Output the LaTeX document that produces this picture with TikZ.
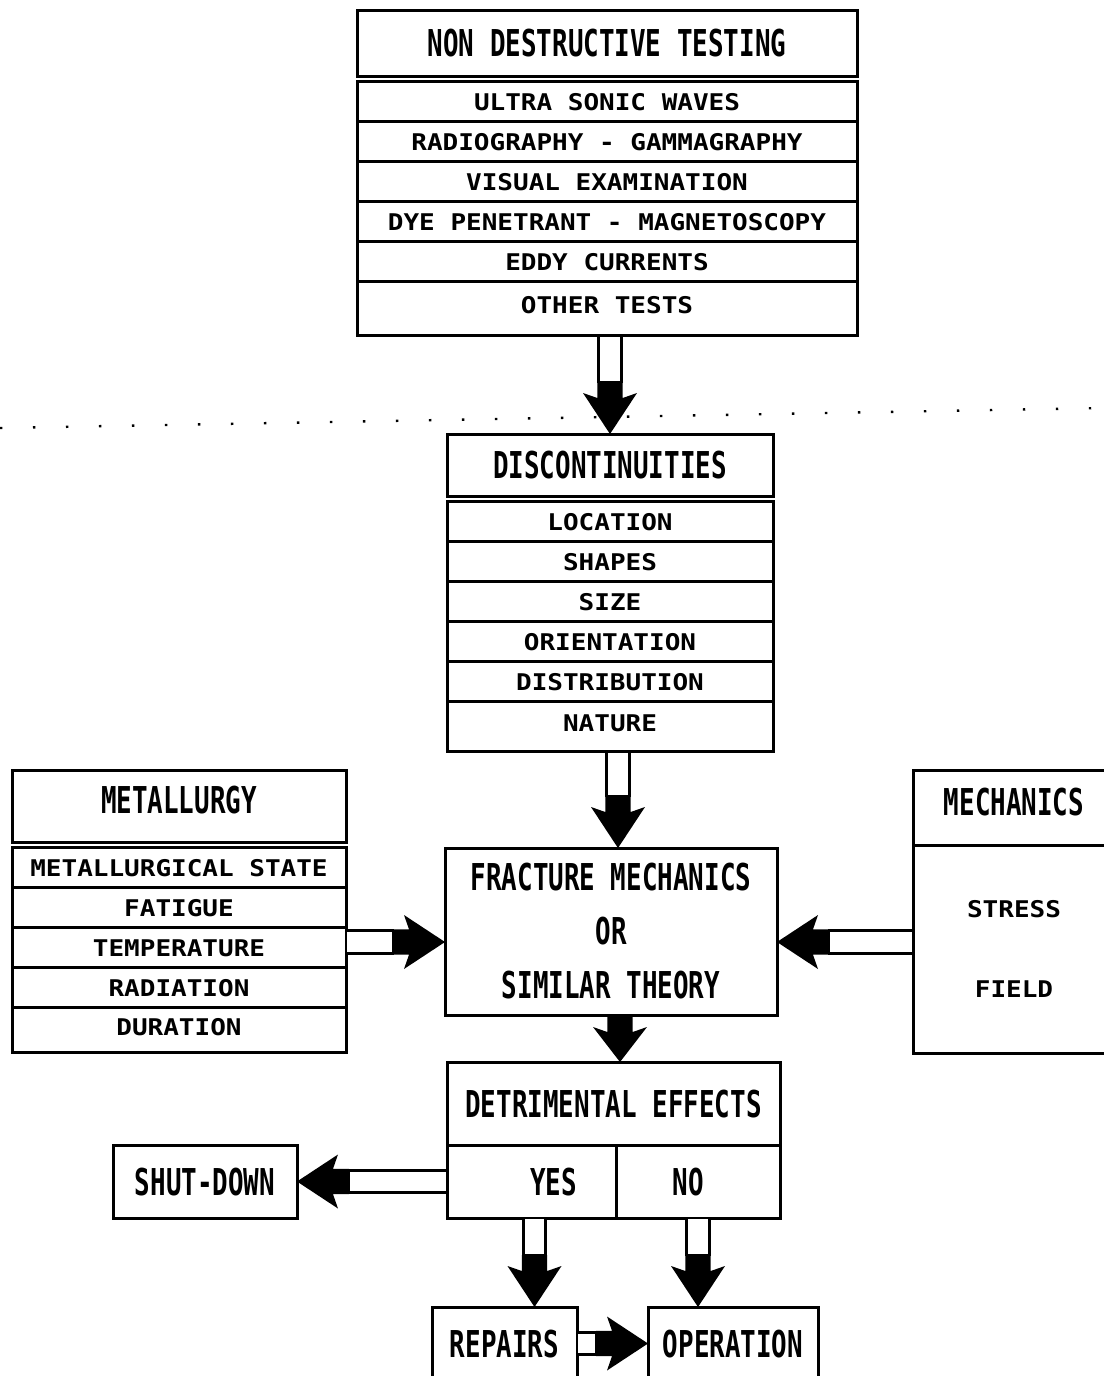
\documentclass[tikz,border=0pt]{standalone}
\usepackage{fontspec}
\usetikzlibrary{positioning, calc}
\newfontfamily\titlefont[FakeStretch=0.7]{DejaVu Sans Mono}
\newfontfamily\itemfont[FakeStretch=1.13]{DejaVu Sans Mono}

% hollow shaft with a black head, from #1 to #2
\newcommand{\hollowarrow}[2]{%
  \coordinate (ta) at (#1);
  \coordinate (tb) at (#2);
  \coordinate (ha) at ($(tb)!36pt!(ta)$);
  \coordinate (hb) at ($(tb)!41pt!(ta)$);
  \coordinate (hk) at ($(tb)!52pt!(ta)$);
  \filldraw[shaft] ($(ta)!11.2pt!90:(tb)$) -- ($(hk)!11.2pt!90:(tb)$) -- ($(hk)!11.2pt!-90:(tb)$) -- ($(ta)!11.2pt!-90:(tb)$) -- cycle;
  \fill ($(hk)!12.7pt!90:(tb)$) -- ($(ha)!12.7pt!90:(tb)$) -- ($(hb)!27pt!90:(tb)$) -- (tb)
        -- ($(hb)!27pt!-90:(tb)$) -- ($(ha)!12.7pt!-90:(tb)$) -- ($(hk)!12.7pt!-90:(tb)$) -- cycle;
}
% short all black arrow, from #1 to #2
\newcommand{\solidarrow}[2]{%
  \coordinate (ta) at (#1);
  \coordinate (tb) at (#2);
  \coordinate (ha) at ($(tb)!30pt!(ta)$);
  \coordinate (hb) at ($(tb)!35pt!(ta)$);
  \fill ($(ta)!12.7pt!90:(tb)$) -- ($(ha)!12.7pt!90:(tb)$) -- ($(hb)!27pt!90:(tb)$) -- (tb)
        -- ($(hb)!27pt!-90:(tb)$) -- ($(ha)!12.7pt!-90:(tb)$) -- ($(ta)!12.7pt!-90:(tb)$) -- cycle;
}

\begin{document}
\begin{tikzpicture}[x=1pt, y=-1pt]
    % Define styles
    \tikzstyle{box} = [draw, line width=3pt, outer sep=0pt, inner sep=0pt]
    \tikzstyle{titlebox} = [box, text height=27pt, text depth=0pt, font=\titlefont\bfseries\fontsize{37pt}{54pt}\selectfont]
    \tikzstyle{itemrow} = [box, minimum height=40pt, text height=17pt, text depth=0pt, font=\itemfont\bfseries\fontsize{23pt}{28pt}\selectfont]
    \tikzstyle{lastrow} = [itemrow, text depth=8pt]
    \tikzstyle{shaft} = [draw, fill=white, line width=2.8pt]
    \tikzstyle{foldline} = [line width=2.4pt, dash pattern=on 2.4pt off 30.6pt]

    \fill[white] (0,0) rectangle (1103,1376);
    \useasboundingbox (0,0) rectangle (1103,1376);

    % dotted fold across the sheet
    \draw[foldline] (0,428) -- (1103,408);

    % Non destructive testing
    \node[titlebox, minimum width=500pt, minimum height=66pt] (ndt) at (607,43) {NON DESTRUCTIVE TESTING};
    \node[itemrow, minimum width=500pt, below=5.5pt of ndt] (ndt1) {ULTRA SONIC WAVES};
    \node[itemrow, minimum width=500pt, below=0pt of ndt1] (ndt2) {RADIOGRAPHY - GAMMAGRAPHY};
    \node[itemrow, minimum width=500pt, below=0pt of ndt2] (ndt3) {VISUAL EXAMINATION};
    \node[itemrow, minimum width=500pt, below=0pt of ndt3] (ndt4) {DYE PENETRANT - MAGNETOSCOPY};
    \node[itemrow, minimum width=500pt, below=0pt of ndt4] (ndt5) {EDDY CURRENTS};
    \node[lastrow, minimum width=500pt, minimum height=54pt, below=0pt of ndt5] (ndt6) {OTHER TESTS};

    % Discontinuities
    \node[titlebox, minimum width=326pt, minimum height=62pt] (disc) at (610,465) {DISCONTINUITIES};
    \node[itemrow, minimum width=326pt, below=5.5pt of disc] (disc1) {LOCATION};
    \node[itemrow, minimum width=326pt, below=0pt of disc1] (disc2) {SHAPES};
    \node[itemrow, minimum width=326pt, below=0pt of disc2] (disc3) {SIZE};
    \node[itemrow, minimum width=326pt, below=0pt of disc3] (disc4) {ORIENTATION};
    \node[itemrow, minimum width=326pt, below=0pt of disc4] (disc5) {DISTRIBUTION};
    \node[lastrow, minimum width=326pt, minimum height=50pt, below=0pt of disc5] (disc6) {NATURE};

    % Metallurgy
    \node[titlebox, minimum width=334pt, minimum height=72pt, text height=15pt] (metal) at (179,806) {METALLURGY};
    \node[itemrow, minimum width=334pt, below=5.5pt of metal] (metal1) {METALLURGICAL STATE};
    \node[itemrow, minimum width=334pt, below=0pt of metal1] (metal2) {FATIGUE};
    \node[itemrow, minimum width=334pt, below=0pt of metal2] (metal3) {TEMPERATURE};
    \node[itemrow, minimum width=334pt, below=0pt of metal3] (metal4) {RADIATION};
    \node[lastrow, minimum width=334pt, minimum height=45pt, text depth=6pt, below=0pt of metal4] (metal5) {DURATION};

    % Mechanics
    \node[titlebox, minimum width=202pt, minimum height=75pt, text height=15pt] (mech) at (1014,807.5) {MECHANICS};
    \node[box, minimum width=202pt, minimum height=208pt, below=0pt of mech, align=center,
          font=\itemfont\bfseries\fontsize{23pt}{80pt}\selectfont] (field) {STRESS\\FIELD};

    % Fracture mechanics
    \node[box, minimum width=332pt, minimum height=167pt, align=center,
          font=\titlefont\bfseries\fontsize{37pt}{54pt}\selectfont] (frac) at (611,931.5) {FRACTURE MECHANICS\\OR\\SIMILAR THEORY};

    % Detrimental effects
    \node[titlebox, minimum width=333pt, minimum height=83pt] (det) at (613.5,1103.5) {DETRIMENTAL EFFECTS};
    \node[titlebox, minimum width=169pt, minimum height=73pt, anchor=north west] (yes) at (det.south west) {\hspace*{44pt}YES};
    \node[titlebox, minimum width=164pt, minimum height=73pt, anchor=north west] (no) at (yes.north east) {NO\hspace*{20pt}};

    % Outcomes
    \node[titlebox, minimum width=184pt, minimum height=73pt] (shut) at (205,1181.5) {SHUT-DOWN};
    \node[titlebox, minimum width=145pt, minimum height=73pt] (repairs) at (504.5,1343.5) {REPAIRS};
    \node[titlebox, minimum width=170pt, minimum height=73pt] (oper) at (733,1343.5) {OPERATION};

    % Connections
    \hollowarrow{disc.north |- ndt6.south}{disc.north}
    \coordinate (d2) at ([xshift=8pt]disc6.south);
    \hollowarrow{d2}{d2 |- frac.north}
    \coordinate (f3) at ([xshift=9pt]frac.south);
    \solidarrow{f3}{f3 |- det.north}
    \coordinate (f4) at ([yshift=-10.5pt]frac.west);
    \hollowarrow{metal.east |- f4}{f4}
    \coordinate (f5) at ([yshift=-10.5pt]frac.east);
    \hollowarrow{mech.west |- f5}{f5}
    \hollowarrow{yes.west}{shut.east}
    \coordinate (y7) at ([xshift=3pt]yes.south);
    \hollowarrow{y7}{y7 |- repairs.north}
    \hollowarrow{no.south}{no.south |- oper.north}
    \hollowarrow{repairs.east}{oper.west}
\end{tikzpicture}
\end{document}
